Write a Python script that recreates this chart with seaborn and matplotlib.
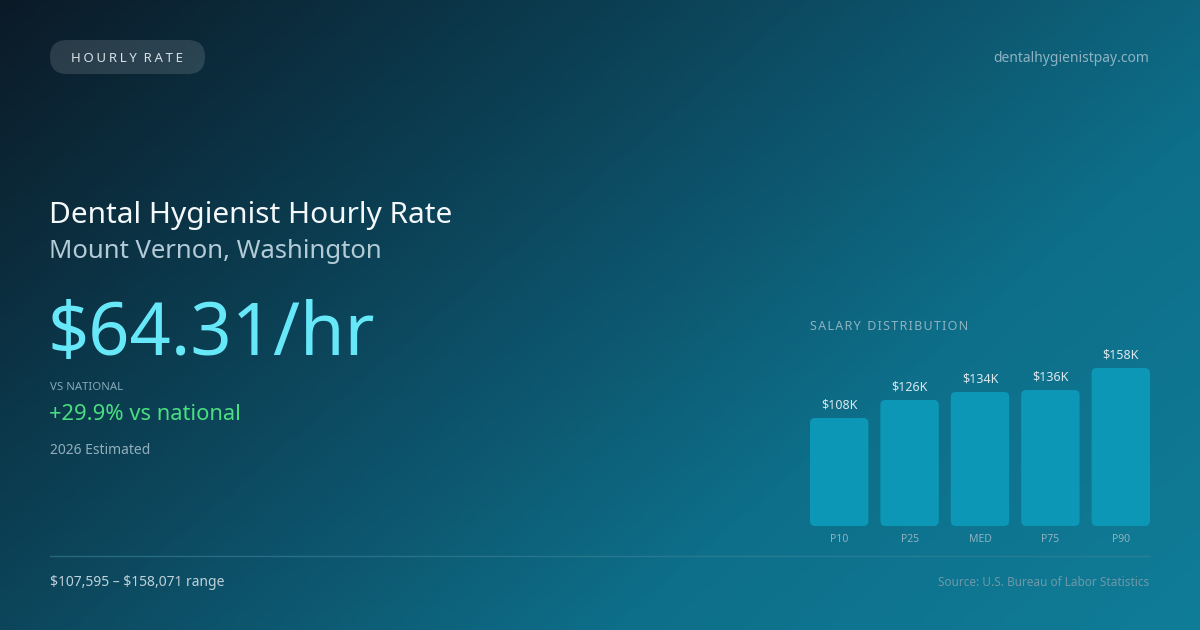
import numpy as np
import pandas as pd
import seaborn as sns
import matplotlib
matplotlib.use('Agg')
import matplotlib.pyplot as plt
from matplotlib.patches import FancyBboxPatch
from matplotlib.colors import LinearSegmentedColormap

labels = ['P10', 'P25', 'MED', 'P75', 'P90']
values = [108, 126, 134, 136, 158]          # $K
value_text = ['$108K', '$126K', '$134K', '$136K', '$158K']
title = 'Dental Hygienist Hourly Rate'
location = 'Mount Vernon, Washington'
rate = '$64.31/hr'
vs_nat = '+29.9% vs national'
range_text = '$107,595 \u2013 $158,071 range'

sns.set_theme(style='white')
plt.rcParams['font.family'] = ['Noto Sans', 'DejaVu Sans']

W, H = 1200, 630
fig = plt.figure(figsize=(12, 6.3), dpi=100)

# background gradient, dark navy top-left to teal bottom-right
bg = fig.add_axes([0, 0, 1, 1])
bg.set_axis_off()
yy, xx = np.mgrid[0:1:200j, 0:1:380j]
t = 0.62 * xx + 0.38 * yy
cmap = LinearSegmentedColormap.from_list('bg', ['#0b1a27', '#0c4257', '#0e6f8a', '#107f9a'])
bg.imshow(t, cmap=cmap, extent=[0, W, H, 0], aspect='auto', vmin=0, vmax=1.05)
bg.set_xlim(0, W)
bg.set_ylim(H, 0)


def spaced(s, n=1):
    # fake letter spacing with hair spaces
    return '  '.join(('\u200a' * n).join(w) for w in s.split(' '))


def txt(x, y, s, size, color, ha='left'):
    bg.text(x, y, s, fontsize=size, color=color, ha=ha, va='center',
            parse_math=False)

# pill
pill = FancyBboxPatch((50, 40), 155, 34, boxstyle='round,pad=0,rounding_size=17',
                      fc='#ffffff', alpha=0.13, ec='none')
bg.add_patch(pill)
txt(127, 58, spaced('HOURLY RATE', 2), 9.5, '#d6e0e6', ha='center')
txt(1149, 59, 'dentalhygienistpay.com', 10, '#8db3c3', ha='right')

txt(49, 215, title, 21.5, '#f4f8fa')
txt(49, 252, location, 18.5, '#b3cbd7')
txt(48, 336, rate, 52, '#67e8f9')
txt(50, 388, 'VS NATIONAL', 8.2, '#86a8b7')
txt(49, 415, vs_nat, 15.8, '#4ade80')
txt(50, 451, '2026 Estimated', 10, '#93aebb')

bg.plot([50, 1150], [556, 556], color='#3a8299', lw=1, alpha=0.6)
txt(50, 582, range_text, 10, '#c0d1d9')
txt(1149, 582, 'Source: U.S. Bureau of Labor Statistics', 8.5, '#6e98a9', ha='right')
txt(810, 326, spaced('SALARY DISTRIBUTION'), 9, '#8fb2c2')

# bar chart
df = pd.DataFrame({'pct': labels, 'val': values})
bw = 0.83
ax = fig.add_axes([810 / W, (H - 526) / H, 340 / W, 160 / H])
sns.barplot(data=df, x='pct', y='val', ax=ax, color='#0b97b5', width=bw,
            saturation=1, zorder=2)
ax.set_xlim(-bw / 2, len(labels) - 1 + bw / 2)
ax.set_ylim(0, 160)
ax.patch.set_alpha(0)
for s in ax.spines.values():
    s.set_visible(False)
ax.set_xlabel('')
ax.set_ylabel('')
ax.set_yticks([])
ax.tick_params(axis='x', length=0, pad=6, labelsize=7.5, labelcolor='#8db2c2')

# round the bar corners: swap each rectangle for a rounded box
px_per_x = 340 / (len(labels) - 1 + bw)   # pixels per x unit; y is 1 px per unit
r = 5 / px_per_x
for p, lab in zip(list(ax.patches), value_text):
    x0, y0, w, h = p.get_x(), p.get_y(), p.get_width(), p.get_height()
    p.set_visible(False)
    rb = FancyBboxPatch((x0, y0), w, h, boxstyle=f'round,pad=0,rounding_size={r}',
                        mutation_aspect=px_per_x, fc=p.get_facecolor(), ec='none',
                        zorder=2)
    ax.add_patch(rb)
    ax.text(x0 + w / 2, h + 7, lab, ha='center', va='bottom', fontsize=9,
            color='#dce8ee', clip_on=False, parse_math=False)

fig.savefig('out.png', dpi=100)
